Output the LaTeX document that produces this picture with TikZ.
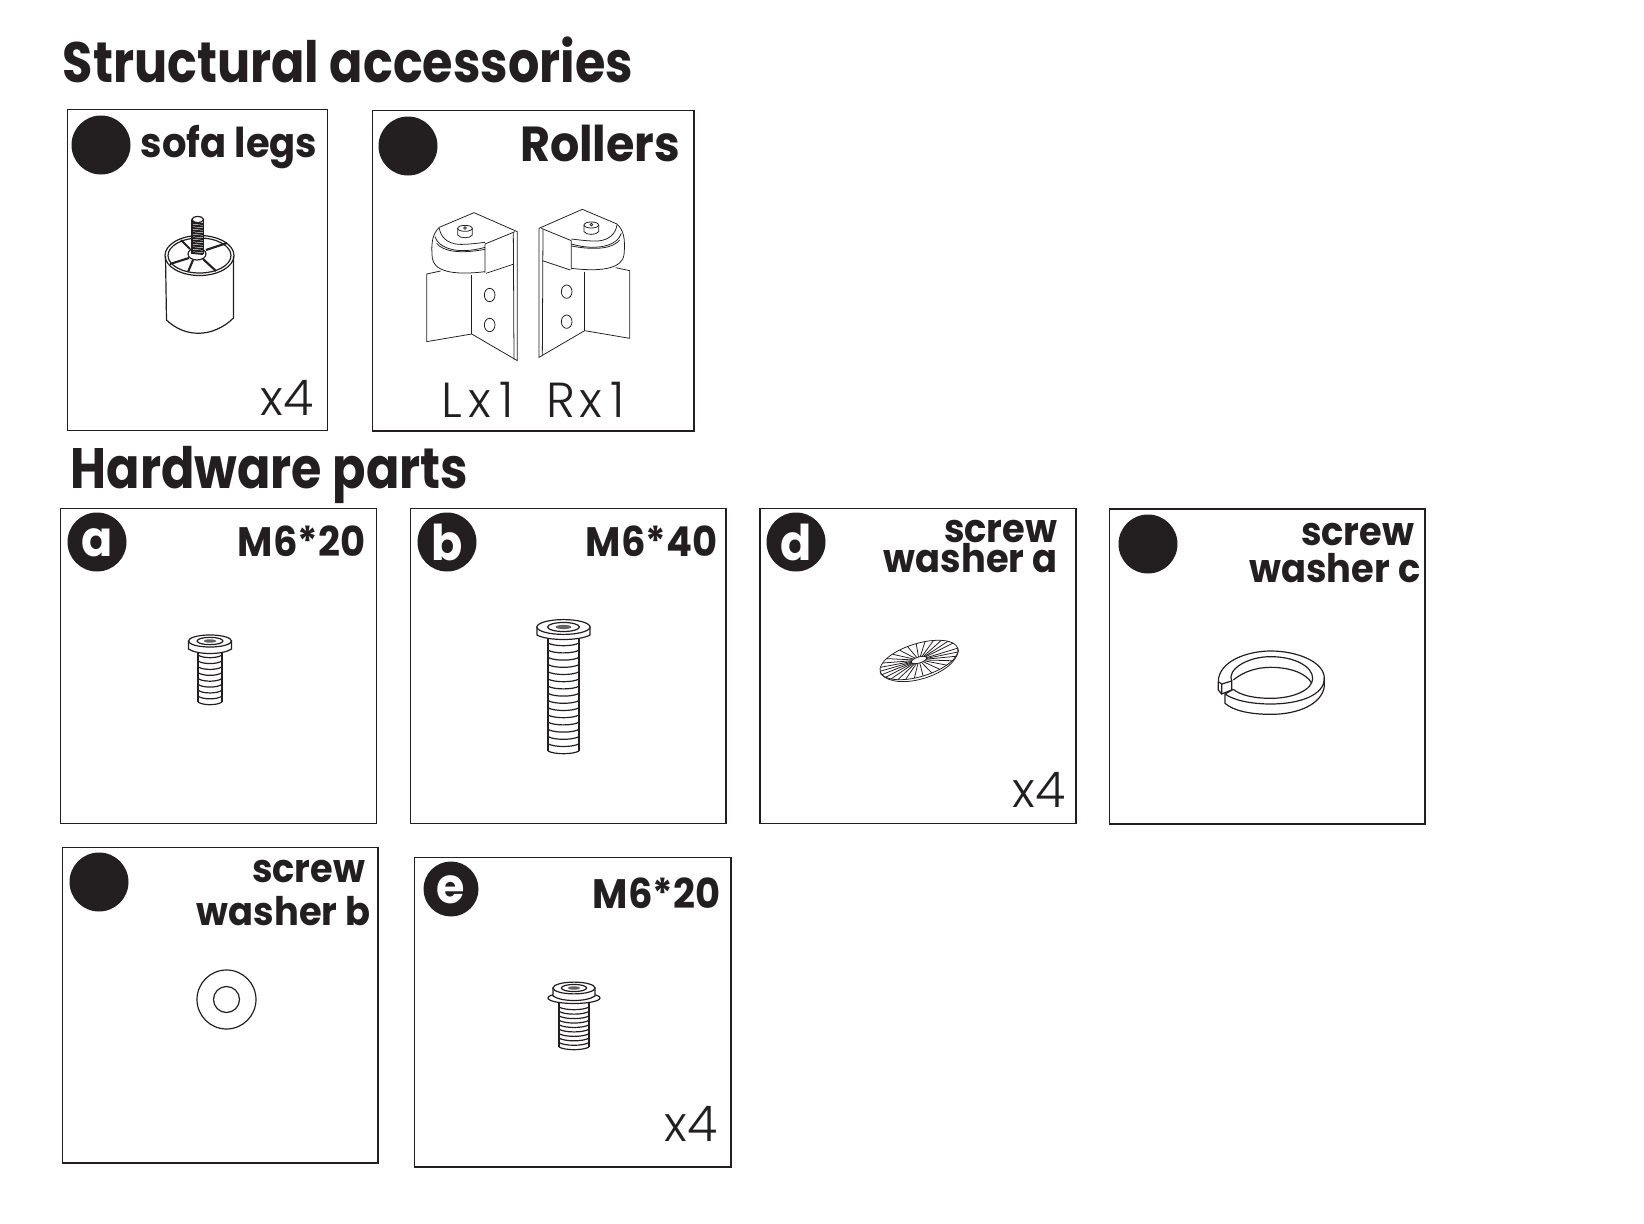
\documentclass[tikz,border=0pt]{standalone}
\usepackage{fontspec}
\setmainfont{Poppins}[BoldFeatures={FakeStretch=0.935}]
\newfontfamily\lightfont{Poppins}[UprightFont=* Light]
\newfontfamily\titlefont{Poppins}[UprightFont=* Bold, FakeStretch=0.865]
\definecolor{inkblack}{RGB}{35, 31, 32}

% thread lines of a screw: x, first y, last y, half width, count
\newcommand{\threadlines}[5]{
  \foreach \i in {0,...,#5} {
    \pgfmathsetmacro{\ty}{#2+(#3-#2)*\i/#5}
    \draw[partline] ({#1-#4},\ty) .. controls ({#1-#4*0.6},\ty+3.6) and ({#1+#4*0.6},\ty+3.6) .. ({#1+#4},\ty);
  }
}
% screw head with socket: x, y of top face, half width
\newcommand{\screwhead}[3]{
  \draw[partline,fill=white] ({#1-#3},#2) -- ({#1-#3},#2+8) .. controls ({#1-#3*0.6},#2+14) and ({#1+#3*0.6},#2+14) .. ({#1+#3},#2+8) -- ({#1+#3},#2) -- cycle;
  \draw[partline,fill=white] (#1,#2) ellipse [x radius=#3, y radius=0.28*#3];
  \draw[partline] (#1,#2) ellipse [x radius=0.6*#3, y radius=0.17*#3];
  \fill[inkblack!70] (#1,#2) ellipse [x radius=0.3*#3, y radius=0.08*#3];
}
% one roller bracket, in the 3x crop units
\newcommand{\rollerpart}{
  \draw[thinline] (118,112) -- (222,68) -- (352,125) -- (352,512) -- (215,432) -- (80,455) -- (80,252) -- (122,243);
  \draw[thinline] (340,128) -- (342,508);
  \draw[thinline] (345,125) -- (255,162) -- (255,248);
  \draw[thinline] (215,255) -- (215,432);
  \draw[thinline] (258,250) -- (342,222);
  \draw[thinline] (118,112) .. controls (100,130) and (92,150) .. (97,205) .. controls (102,240) and (150,258) .. (255,245);
  \draw[thinline] (118,115) .. controls (122,140) and (140,160) .. (175,163) .. controls (200,164) and (230,160) .. (255,157);
  \draw[thinline] (105,140) .. controls (115,175) and (175,195) .. (255,172);
  \draw[thinline] (110,160) .. controls (130,185) and (180,192) .. (255,178);
  \draw[thinline] (173,115) -- (173,135) .. controls (180,146) and (210,146) .. (217,135) -- (217,115);
  \draw[thinline] (195,115) ellipse [x radius=22, y radius=9];
  \draw[thinline] (195,114) circle (4);
  \draw[thinline] (269,315) ellipse [x radius=16, y radius=20];
  \draw[thinline] (269,405) ellipse [x radius=16, y radius=20];
}

\tikzset{
  boxline/.style={draw=inkblack, line width=0.36pt},
  partline/.style={draw=inkblack, line width=0.34pt},
  thinline/.style={draw=inkblack, line width=0.22pt},
  headtext/.style={anchor=base west, inner sep=0pt, text=inkblack, font=\fontsize{16.2}{16}\selectfont\titlefont},
  nametext/.style={anchor=base east, inner sep=0pt, text=inkblack, font=\fontsize{11.2}{11}\selectfont\bfseries},
  widename/.style={nametext, font=\fontsize{11.7}{11}\selectfont\bfseries},
  counttext/.style={anchor=base east, inner sep=0pt, text=inkblack, font=\fontsize{14}{14}\selectfont\lightfont},
  lettertext/.style={anchor=center, inner sep=0pt, text=white, font=\fontsize{14}{14}\selectfont\bfseries},
}

\begin{document}
\begin{tikzpicture}[x=0.01cm, y=-0.01cm]
  \useasboundingbox (0,0) rectangle (1644,1224);
  % headings
  \node[headtext] (structural) at (62,82) {Structural accessories};
  \node[headtext] (hardware) at (70,488) {Hardware parts};
  % boxes
  \draw[boxline] (67.5,109.5) rectangle (327.5,430.5);
  \draw[boxline] (372.5,110.5) rectangle (694,431);
  \draw[boxline] (60.5,508.5) rectangle (376.5,823.5);
  \draw[boxline] (410.5,508.5) rectangle (726,823.5);
  \draw[boxline] (760,508.5) rectangle (1076,823.5);
  \draw[boxline] (1109.5,509) rectangle (1425,824);
  \draw[boxline] (62.5,847.5) rectangle (378,1163);
  \draw[boxline] (414.5,857.5) rectangle (731,1167);
  % badges
  \foreach \x/\y in {101/145, 408/146, 97/542, 447/542, 796/542, 1148/544, 99/882} {
    \fill[inkblack] (\x,\y) circle (29.5);
  }
  \fill[inkblack] (451,889) circle (27.5);
  \node[lettertext] (badgea) at (97,543) {a};
  \node[lettertext] (badgeb) at (447.5,542) {b};
  \node[lettertext] (badged) at (796,542) {d};
  \node[lettertext] (badgee) at (451,889.5) {e};
  % labels
  \node[widename] (legsname) at (318,157) {sofa legs};
  \node[nametext,font=\fontsize{14}{14}\selectfont\bfseries] (rollersname) at (681,162) {Rollers};
  \node[widename] (aname) at (366,556) {M6*20};
  \node[widename] (bname) at (718,556) {M6*40};
  \node[nametext] (dnameone) at (1058,542) {screw};
  \node[nametext] (dnametwo) at (1058,572) {washer a};
  \node[nametext] (cnameone) at (1415,545) {screw};
  \node[nametext] (cnametwo) at (1421,582) {washer c};
  \node[nametext] (wnameone) at (366,882) {screw};
  \node[nametext] (wnametwo) at (371,925) {washer b};
  \node[widename] (ename) at (721,908) {M6*20};
  \node[counttext] (legscount) at (314,415) {x4};
  \node[counttext] (lcount) at (515,417) {L\kern1.6pt x\kern2.6pt 1};
  \node[counttext] (rcount) at (626,417) {R\kern1.4pt x\kern2.4pt 1};
  \node[counttext] (dcount) at (1066,807) {x4};
  \node[counttext] (ecount) at (718,1141) {x4};
  % sofa leg
  \draw[partline] (165.5,256) -- (166.5,320) .. controls (185,338) and (213,338) .. (233.5,318) -- (233.5,256);
  \draw[partline] (199.5,255.5) ellipse [x radius=34.5, y radius=20];
  \draw[partline] (199.5,255.5) ellipse [x radius=31.5, y radius=17.5];
  \draw[partline] (197,254) ellipse [x radius=9, y radius=6];
  \draw[inkblack, line width=0.6pt] (189,258) -- (170,264);
  \draw[inkblack, line width=0.6pt] (193,260) -- (188,272);
  \draw[inkblack, line width=0.6pt] (203,259) -- (216,271);
  \draw[inkblack, line width=0.6pt] (206,250) -- (227,243);
  \draw[inkblack, line width=0.6pt] (190,249) -- (181,240);
  \fill[white] (192,220) rectangle (203.5,254);
  \draw[partline] (192,220) -- (192,254) (203.5,220) -- (203.5,254);
  \draw[partline] (197.7,219.5) ellipse [x radius=5.8, y radius=3];
  \foreach \y in {223,225.5,...,255} {
    \draw[inkblack, line width=0.55pt] (192.5,\y) -- (203,\y+1);
  }
  % rollers
  \begin{scope}[shift={(400,190)}, scale=1/3]
    \rollerpart
    \begin{scope}[shift={(769,-10)}, xscale=-1]
      \rollerpart
    \end{scope}
  \end{scope}
  % screw a
  \draw[partline] (198,650) -- (198,702) (222,650) -- (222,702);
  \threadlines{210}{655}{702}{12}{8}
  \screwhead{210}{641}{21.5}
  % screw b
  \draw[partline] (548,635) -- (548,751) (579,635) -- (579,751);
  \threadlines{563.5}{643}{751}{15.5}{15}
  \screwhead{563.5}{627}{26.5}
  % washer a
  \begin{scope}[shift={(919,660)}, rotate=17]
    \draw[thinline] (-40.5,0) -- (-40.5,2.5) .. controls (-30,24.5) and (30,24.5) .. (40.5,2.5) -- (40.5,0);
    \draw[thinline,fill=white] (0,0) ellipse [x radius=40.5, y radius=16.5];
    \draw[thinline] (0,0) ellipse [x radius=8, y radius=3];
    \foreach \a in {0,13,...,350} {
      \draw[thinline] ({8*cos(\a)},{3*sin(\a)}) -- ({40.5*cos(\a)},{16.5*sin(\a)});
    }
  \end{scope}
  % washer c
  \begin{scope}[shift={(860,620)}, scale=1/3]
    \draw[partline] (1075,185) .. controls (1075,125) and (1160,93) .. (1232,93) .. controls (1310,93) and (1393,125) .. (1393,175) .. controls (1393,225) and (1320,252) .. (1232,252) .. controls (1170,252) and (1120,240) .. (1095,222);
    \draw[partline] (1393,175) -- (1393,200) .. controls (1385,250) and (1320,283) .. (1232,283) .. controls (1170,283) and (1120,272) .. (1095,250) -- (1095,222) -- (1120,208);
    \draw[partline] (1115,183) .. controls (1100,150) and (1160,110) .. (1232,110) .. controls (1305,110) and (1358,140) .. (1358,175) .. controls (1358,210) and (1300,235) .. (1232,235) .. controls (1180,235) and (1140,225) .. (1120,208);
    \draw[partline] (1120,180) .. controls (1150,155) and (1190,142) .. (1232,142) .. controls (1290,142) and (1340,160) .. (1355,190);
    \draw[partline] (1075,185) -- (1085,192) -- (1115,183) -- (1115,210) -- (1085,222) -- (1085,192);
    \draw[partline] (1075,185) -- (1075,210) -- (1085,222);
  \end{scope}
  % washer b
  \draw[partline] (226.5,999.5) circle (29.5);
  \draw[partline] (226.5,999.5) circle (13);
  % screw e
  \draw[partline] (559,1003) -- (559,1047) (589,1003) -- (589,1047);
  \threadlines{574}{1007}{1047}{15}{9}
  \draw[partline,fill=white] (574,998) ellipse [x radius=26, y radius=5.5];
  \screwhead{574}{988}{21}
\end{tikzpicture}
\end{document}
